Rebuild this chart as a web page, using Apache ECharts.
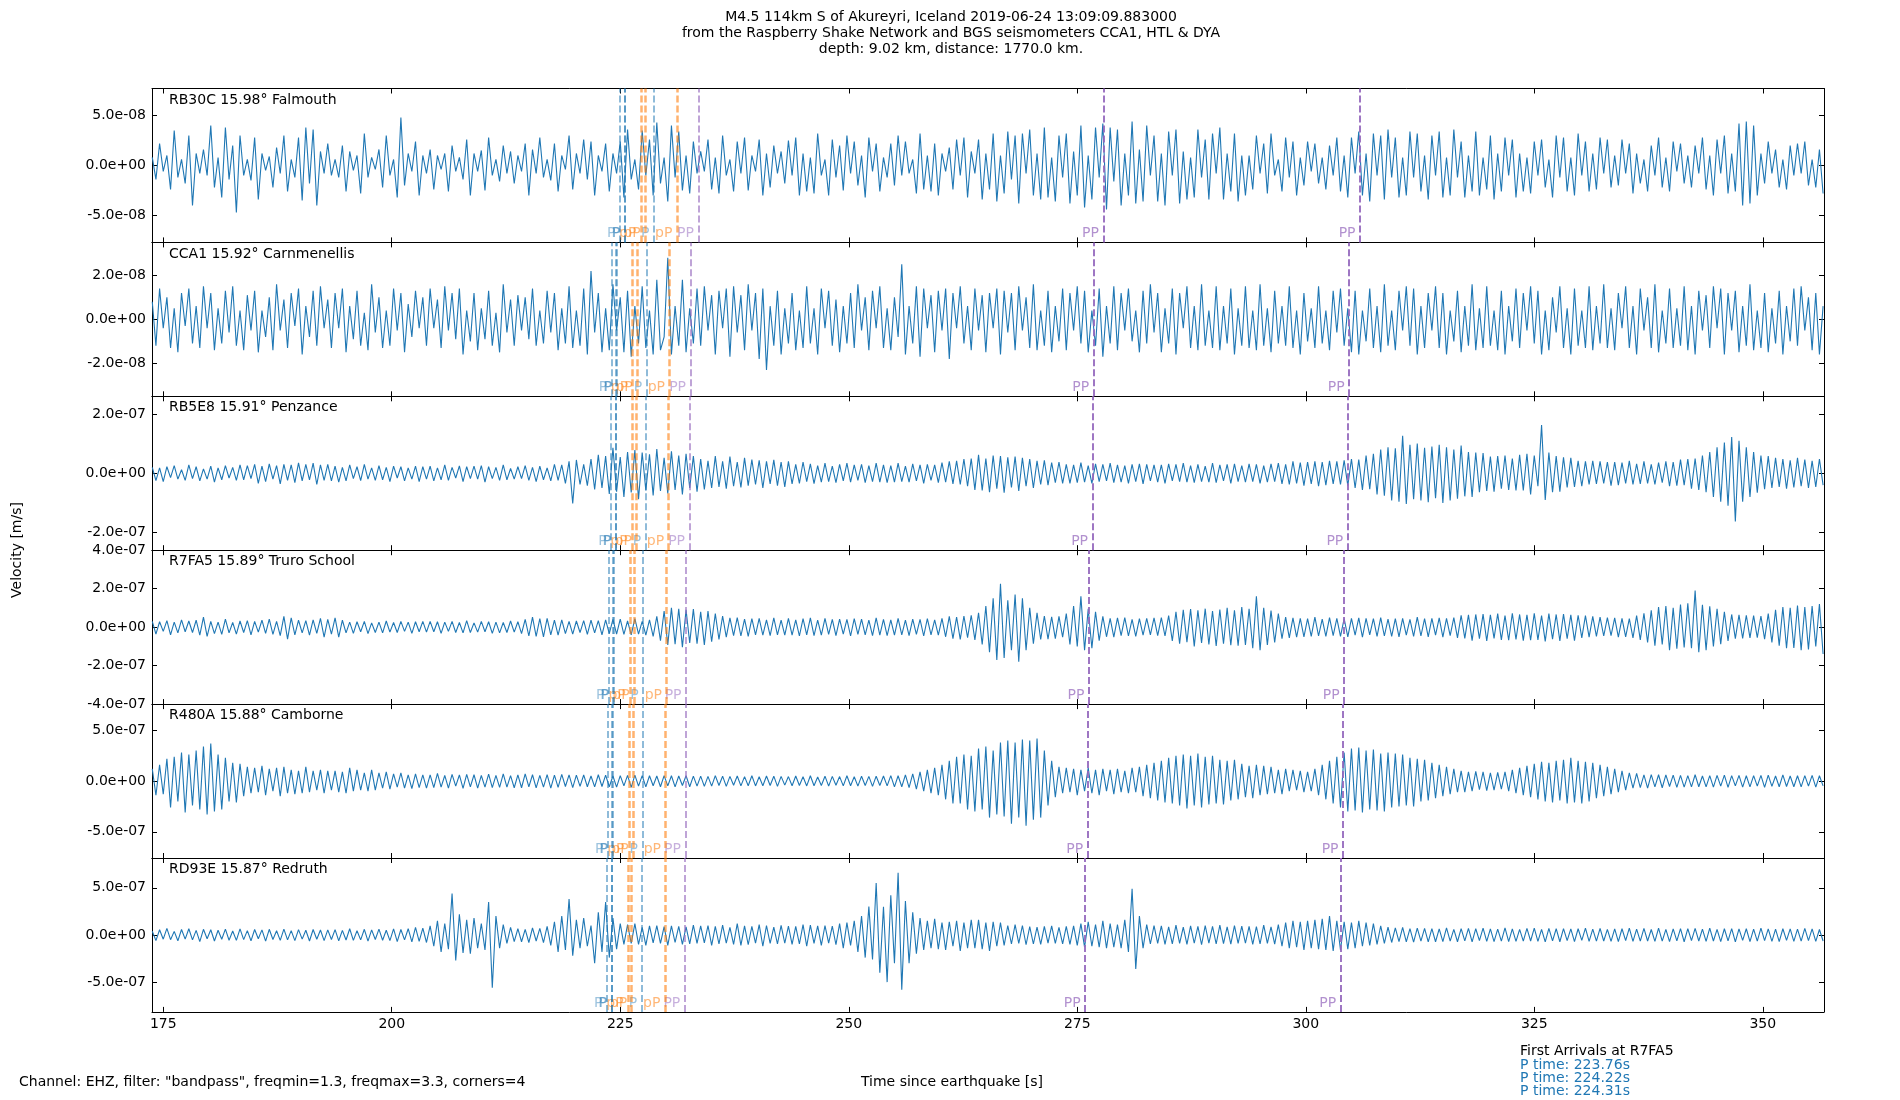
<!DOCTYPE html>
<html>
<head>
<meta charset="utf-8">
<script src="https://cdn.jsdelivr.net/npm/echarts@6/dist/echarts.min.js"></script>
<style>html,body{margin:0;padding:0;background:#fff}#chart{width:1900px;height:1100px}</style>
</head>
<body>
<div id="chart"></div>
<script>
// sample grid of the traces (s since origin) and x range
var t0 = 173.8, dt = 0.4;
var xMin = 173.77, xMax = 356.7;
var xTicks = [175, 200, 225, 250, 275, 300, 325, 350];

var stations = ['RB30C', 'CCA1', 'RB5E8', 'R7FA5', 'R480A', 'RD93E'];
var dists = ['15.98°', '15.92°', '15.91°', '15.89°', '15.88°', '15.87°'];
var places = ['Falmouth', 'Carnmenellis', 'Penzance', 'Truro School', 'Camborne', 'Redruth'];
// y limits and ticks in nm/s
var yLim = [77, 35, 260, 400, 758, 816];
var yTicks = [[-50, 0, 50], [-20, 0, 20], [-200, 0, 200], [-400, -200, 0, 200, 400], [-500, 0, 500], [-500, 0, 500]];

// arrivals (s)
var pTimes = [[224.97, 225.45, 225.53, 228.68], [224.06, 224.55, 224.64, 227.88], [224.0, 224.47, 224.56, 227.78],
  [223.76, 224.22, 224.31, 227.5], [223.65, 224.11, 224.2, 227.43], [223.55, 224.02, 224.1, 227.34]];
var pPTimes = [[227.26, 227.73, 231.2], [226.35, 226.86, 230.39], [226.3, 226.76, 230.3],
  [226.1, 226.52, 230.06], [225.96, 226.41, 229.95], [225.87, 226.24, 229.88]];
var ppNear = [233.56, 232.69, 232.58, 232.2, 232.12, 232.06];
var ppFar = [[277.86, 305.94], [276.8, 304.74], [276.67, 304.6], [276.27, 304.21], [276.14, 304.08], [275.87, 303.81]];

// velocity traces, nm/s, one value every 0.4 s from 173.8 s
var rb30c = [8,-14,22,-6,10,-24,35,-12,6,-18,30,-40,12,-8,16,-10,40,-22,8,-32,38,-14,20,-47,30,
  -10,6,-15,28,-34,12,-5,9,-22,18,-8,30,-26,6,-12,28,-35,38,-18,36,-40,14,-8,22,-10,
  6,-12,20,-26,14,-5,10,-28,32,-12,8,-4,16,-22,30,-10,6,-32,48,-20,12,-6,24,-30,10,
  -8,16,-24,10,-4,12,-26,20,-6,8,-14,26,-30,12,-6,15,-25,28,-10,6,-16,20,-8,14,-18,
  10,-6,22,-30,16,-8,28,-12,6,-15,22,-26,10,-4,30,-24,12,-8,26,-14,24,-30,10,-6,22,
  -26,12,-8,24,-32,36,-14,6,-24,35,-10,26,-30,43,-18,8,-36,40,-12,34,-25,10,-28,24,-8,
  14,-6,26,-24,8,-28,30,-10,6,-26,24,-8,28,-25,10,-6,26,-30,12,-22,20,-8,14,-18,25,
  -10,28,-30,12,-26,8,-28,32,-10,6,-30,26,-12,20,-25,30,-8,24,-20,10,-32,28,-6,22,-26,
  8,-12,22,-20,30,-10,24,-8,6,-28,32,-24,10,-26,22,-30,12,-6,18,-24,26,-10,28,-32,14,
  -8,26,-34,12,-24,32,-36,10,-28,34,-14,30,-38,32,-8,36,-30,12,-34,38,-32,8,-36,30,-12,
  32,-38,14,-30,40,-42,10,-34,38,-12,42,-44,38,-16,36,-40,12,-30,44,-38,16,-36,40,-10,30,
  -36,12,-40,34,-10,36,-38,14,-34,8,-32,36,-12,26,-34,32,-8,38,-34,12,-26,32,-36,10,-30,
  10,-24,30,-8,22,-28,32,-10,6,-26,28,-12,24,-30,8,-20,24,-6,22,-18,8,-24,20,-10,28,
  -26,10,-32,28,-8,34,-30,12,-36,32,-10,30,-34,36,-12,28,-32,8,-30,34,-12,32,-26,10,-34,
  30,-10,34,-32,8,-30,36,-12,24,-32,10,-26,34,-30,8,-24,30,-34,12,-26,28,-10,26,-32,12,
  -26,8,-28,24,-10,26,-22,6,-32,30,-12,28,-26,8,-30,32,-10,24,-26,12,-24,28,-8,26,-22,
  10,-20,26,-8,22,-28,12,-18,6,-26,20,-10,28,-22,8,-26,24,-6,22,-18,10,-22,20,-8,28,
  -24,10,-30,26,-8,30,-28,12,-26,42,-40,44,-38,40,-30,12,-18,24,-8,16,-22,6,-24,20,-10,
  22,-8,24,-20,6,-22,16,-28];
var cca1 = [8,-12,14,-4,10,-13,5,-15,12,-3,14,-11,6,-13,15,-4,12,-14,5,-11,13,-6,15,-12,4,
  -14,11,-5,13,-15,4,-8,10,-14,16,-5,9,-13,12,-3,14,-16,6,-8,13,-12,15,-4,9,-13,
  12,-4,14,-15,6,-9,13,-12,3,-14,16,-6,10,-13,4,-12,14,-5,12,-15,7,-8,13,-4,10,
  -12,14,-4,9,-13,15,-5,12,-9,14,-16,4,-10,12,-14,5,-9,13,-12,3,-15,16,-6,9,-12,
  11,-5,10,-9,14,-12,4,-11,13,-6,12,-14,5,-11,15,-13,4,-12,14,-16,22,-6,12,-15,5,
  -14,16,-5,10,-15,13,-17,6,-11,15,-13,4,-16,18,-14,-8,28,-16,6,-12,18,-15,5,-11,14,
  -12,15,-5,11,-16,13,-4,14,-17,15,-6,11,-14,16,-5,12,-18,14,-23,6,-12,13,-16,5,-11,
  12,-14,4,-13,15,-11,5,-16,14,-4,13,-12,9,-15,6,-11,12,-13,16,-5,10,-14,13,-4,15,
  -13,5,-14,10,-8,25,-16,6,-11,15,-17,14,-4,11,-15,13,-5,14,-18,12,-4,15,-11,6,-14,
  14,-5,11,-15,12,-4,14,-16,13,-6,12,-14,15,-5,10,-13,16,-14,4,-12,13,-15,6,-10,14,
  -14,12,-5,15,-11,13,-15,4,-12,14,-17,6,-11,15,-14,12,-5,14,-10,4,-15,13,-11,16,-6,
  12,-15,5,-11,14,-16,12,-4,15,-13,6,-14,16,-12,4,-13,15,-14,6,-11,14,-16,5,-12,15,
  -13,4,-14,16,-12,5,-15,13,-11,6,-12,15,-13,4,-16,12,-10,5,-13,15,-11,4,-14,13,-6,
  14,-12,5,-15,13,-16,4,-10,14,-13,6,-15,16,-12,4,-14,13,-5,15,-12,14,-16,6,-13,12,
  -5,15,-13,12,-16,4,-10,13,-15,6,-12,16,-14,5,-13,15,-12,4,-14,13,-16,6,-10,14,-13,
  12,-5,15,-11,13,-16,4,-14,10,-6,15,-13,5,-16,14,-12,4,-13,15,-14,6,-11,16,-13,5,
  -14,12,-4,15,-13,6,-16,14,-5,10,-13,16,-15,4,-11,14,-13,5,-12,15,-14,6,-16,13,-5,
  11,-13,15,-4,14,-16,12,-5,13,-15,6,-12,16,-14,4,-13,12,-15,5,-11,13,-16,6,-10,14,
  -12,15,-5,10,-14,12,-16,6];
var rb5e8 = [20,-25,18,-28,22,-15,26,-20,12,-24,28,-18,22,-26,15,-20,24,-30,18,-22,26,-16,20,-24,28,
  -22,26,-18,30,-34,24,-28,32,-20,26,-36,30,-24,28,-32,35,-26,30,-22,34,-38,28,-24,30,-26,
  24,-30,20,-26,28,-18,22,-25,30,-20,18,-24,26,-22,20,-28,24,-16,22,-26,18,-20,24,-28,22,
  -20,24,-26,18,-22,28,-24,20,-16,25,-28,22,-18,24,-20,26,-30,22,-18,20,-24,28,-22,16,-20,
  22,-18,26,-24,20,-28,24,-22,18,-26,30,-24,28,-34,40,-102,45,-38,30,-42,48,-55,62,-50,58,
  -70,86,-62,55,-80,72,-65,78,-88,70,-58,64,-75,82,-60,52,-68,74,-56,60,-72,66,-50,58,-62,
  48,-55,42,-50,58,-46,40,-52,56,-44,38,-48,52,-42,46,-38,44,-50,40,-36,45,-42,38,-46,40,
  -36,30,-34,38,-28,32,-35,26,-30,34,-28,24,-32,30,-26,34,-30,28,-24,30,-32,26,-28,34,-30,
  28,-32,26,-30,34,-28,24,-30,32,-26,28,-34,30,-24,28,-32,36,-30,40,-36,42,-38,48,-44,50,
  -56,62,-58,50,-64,60,-52,58,-66,54,-48,56,-60,52,-44,48,-50,42,-38,44,-40,36,-32,38,-34,
  30,-34,28,-32,36,-30,26,-34,32,-28,30,-26,34,-32,28,-30,26,-34,30,-28,32,-36,30,-26,28,
  -30,28,-34,32,-26,30,-28,34,-30,26,-32,30,-28,24,-30,34,-32,28,-26,30,-34,32,-28,26,-30,
  32,-28,30,-34,26,-30,32,-28,34,-36,30,-38,40,-34,36,-42,38,-36,40,-44,38,-40,42,-36,40,
  -38,44,-42,48,-50,46,-56,60,-54,66,-72,80,-76,88,-92,84,-96,127,-104,96,-88,100,-92,86,-98,
  90,-84,96,-100,88,-92,80,-86,94,-78,72,-80,70,-64,68,-60,56,-62,58,-52,60,-56,50,-58,62,
  -58,66,-72,60,-44,163,-90,70,-64,58,-62,54,-48,52,-46,42,-44,40,-38,42,-36,40,-34,38,-42,
  38,-40,36,-34,42,-38,32,-36,40,-34,30,-38,36,-32,40,-44,38,-42,46,-40,48,-52,50,-56,60,
  -64,72,-80,88,-96,104,-110,122,-163,110,-96,88,-80,72,-66,60,-54,58,-50,52,-46,48,-52,44,-48,
  52,-44,46,-50,42,-46,48,-40];
var r7fa5 = [30,-36,28,-22,34,-40,26,-30,38,-24,32,-28,36,-42,52,-48,30,-34,26,-38,42,-30,24,-36,32,
  -28,34,-40,30,-26,36,-32,42,-38,30,-44,56,-62,48,-40,36,-30,34,-42,38,-32,46,-52,40,-36,
  48,-52,36,-30,26,-32,28,-24,30,-34,22,-28,26,-30,32,-26,24,-28,30,-22,26,-32,28,-24,30,
  -26,30,-24,28,-32,26,-22,30,-28,24,-30,34,-28,22,-26,30,-24,28,-32,26,-30,24,-28,32,-26,
  28,-34,40,-46,52,-48,44,-50,46,-40,36,-42,38,-34,30,-36,32,-28,34,-38,36,-30,34,-40,38,
  -34,40,-36,42,-38,32,-40,44,-36,30,-42,38,-48,56,-70,84,-92,100,-88,96,-104,90,-82,94,-86,
  80,-92,84,-76,70,-64,58,-52,48,-44,50,-46,42,-48,44,-40,46,-42,38,-44,48,-40,36,-42,46,
  -42,38,-46,44,-40,48,-44,36,-42,46,-38,40,-44,42,-36,40,-46,44,-38,42,-40,36,-44,48,-42,
  40,-44,38,-42,46,-40,36,-44,42,-38,40,-46,44,-40,38,-42,46,-50,56,-60,52,-64,58,-54,62,
  -66,74,-90,110,-130,150,-170,225,-160,140,-120,170,-180,150,-120,100,-86,74,-64,58,-62,54,-60,56,-52,
  70,-90,110,-100,160,-120,96,-110,80,-70,56,-50,46,-52,48,-44,50,-46,40,-48,44,-42,46,-40,48,
  -44,50,-46,60,-72,80,-86,90,-78,94,-100,88,-82,96,-90,84,-98,92,-86,100,-94,88,-96,104,-92,
  96,-110,160,-120,100,-92,86,-80,70,-60,52,-56,48,-52,46,-50,44,-48,52,-46,42,-48,50,-44,46,
  -48,44,-50,46,-42,48,-52,46,-40,44,-48,50,-46,42,-48,44,-50,46,-42,40,-48,52,-46,44,-50,
  46,-42,48,-52,46,-44,50,-56,62,-58,64,-70,66,-60,68,-72,64,-58,70,-66,60,-68,72,-64,66,
  -70,64,-68,72,-66,60,-74,70,-62,66,-72,68,-60,64,-70,62,-56,60,-52,56,-48,52,-46,50,-44,
  48,-52,46,-50,44,-56,60,-66,72,-80,88,-96,104,-90,110,-120,100,-112,118,-106,124,-110,190,-130,116,
  -120,108,-100,96,-88,80,-72,66,-60,64,-58,62,-56,60,-54,58,-62,70,-80,90,-96,104,-110,100,-108,
  112,-120,104,-116,110,-100,120,-140];
var r480a = [120,-140,160,-130,220,-260,240,-200,280,-310,260,-240,300,-280,340,-330,370,-300,260,-280,230,-200,180,-210,170,
  -150,140,-120,130,-110,150,-140,120,-100,130,-150,140,-120,110,-130,100,-120,140,-110,100,-90,110,-120,100,-90,
  100,-110,90,-120,130,-100,110,-90,80,-100,110,-90,80,-70,90,-80,70,-60,80,-70,60,-75,70,-65,60,
  -70,60,-65,75,-60,55,-70,65,-50,60,-72,66,-58,62,-70,55,-60,68,-64,56,-62,70,-60,54,-66,
  60,-66,70,-58,62,-68,56,-60,64,-70,58,-62,66,-54,60,-64,58,-52,60,-56,50,-58,62,-54,58,
  -56,50,-60,54,-48,56,-62,58,-50,54,-58,52,-46,50,-56,54,-48,52,-58,50,-44,52,-56,48,-50,
  48,-52,46,-50,54,-44,48,-52,46,-42,50,-48,44,-46,52,-48,42,-46,50,-44,48,-52,46,-40,44,
  -46,50,-44,42,-48,52,-46,40,-44,48,-50,46,-42,44,-48,52,-46,42,-50,48,-44,46,-52,48,-44,
  50,-48,54,-58,52,-56,60,-64,70,-80,90,-100,110,-120,130,-140,160,-180,200,-220,240,-220,260,-280,250,
  -300,320,-280,340,-360,300,-330,380,-350,400,-420,380,-360,410,-440,400,-380,420,-360,300,-240,200,-160,140,-120,
  130,-110,120,-140,110,-100,130,-120,110,-140,120,-100,110,-130,120,-110,100,-120,130,-110,140,-150,160,-170,180,
  -190,200,-210,230,-220,250,-240,260,-270,250,-240,270,-260,240,-230,250,-220,210,-230,200,-190,210,-180,170,-160,
  150,-170,160,-140,150,-130,140,-120,110,-130,120,-100,110,-90,100,-110,90,-100,120,-140,160,-180,200,-220,240,
  -260,280,-300,320,-290,330,-310,300,-280,310,-290,270,-300,280,-260,270,-250,260,-240,230,-250,220,-200,210,-190,
  180,-170,160,-150,140,-130,120,-110,100,-110,90,-100,95,-85,90,-95,80,-90,85,-80,90,-100,110,-120,130,
  -140,150,-160,170,-180,190,-200,180,-210,200,-190,210,-220,230,-210,200,-220,190,-200,180,-170,160,-150,140,-130,
  120,-110,100,-90,80,-70,75,-65,60,-70,64,-58,62,-66,60,-54,58,-62,56,-60,54,-58,62,-56,50,
  -58,54,-60,56,-50,58,-62,54,-48,56,-60,52,-58,54,-50,56,-62,58,-52,50,-56,60,-54,50,-56,
  52,-58,54,-50,56,-60,52,-48];
var rd93e = [40,-60,55,-45,70,-50,38,-62,58,-44,66,-52,48,-70,60,-40,55,-64,50,-46,62,-56,42,-58,64,
  -50,46,-62,58,-40,54,-66,60,-48,44,-58,62,-52,46,-60,56,-44,50,-64,58,-46,52,-60,54,-48,
  56,-62,48,-54,66,-58,44,-52,60,-66,54,-48,62,-56,50,-60,64,-70,58,-52,66,-74,80,-68,72,
  -80,96,-120,150,-180,120,-150,440,-270,220,-190,160,-200,180,-140,120,-160,350,-560,200,-140,110,-90,80,-70,
  66,-72,60,-80,74,-64,70,-82,90,-110,140,-180,200,-160,380,-220,160,-140,180,-120,100,-300,240,-180,350,
  -240,180,-150,120,-100,110,-90,120,-100,80,-110,96,-84,100,-90,88,-110,96,-80,90,-100,86,-94,104,-90,
  96,-84,100,-110,90,-96,104,-88,80,-100,120,-110,96,-104,90,-86,110,-120,100,-90,84,-96,102,-88,94,
  -100,90,-96,110,-120,104,-90,96,-110,100,-86,94,-104,120,-140,130,-110,150,-180,200,-240,300,-260,550,-400,
  300,-500,420,-300,660,-580,360,-300,240,-200,180,-160,150,-140,170,-150,130,-160,140,-120,150,-170,130,-140,160,
  -140,160,-150,130,-170,140,-120,130,-110,100,-96,110,-90,100,-104,88,-96,84,-100,92,-86,96,-90,80,-94,
  90,-100,96,-110,120,-130,140,-120,110,-130,150,-140,120,-130,110,-140,160,-180,490,-360,200,-140,110,-96,100,
  -90,96,-100,86,-94,104,-90,84,-100,96,-88,92,-104,98,-86,90,-96,104,-92,86,-98,100,-90,94,-88,
  92,-100,88,-96,104,-90,86,-98,110,-120,130,-140,150,-130,140,-160,150,-140,160,-150,170,-160,200,-170,150,
  -160,140,-150,130,-140,150,-120,130,-110,120,-100,96,-90,84,-80,76,-70,80,-74,68,-76,72,-66,70,-74,
  68,-72,64,-70,76,-66,60,-72,68,-62,70,-74,66,-60,72,-68,64,-70,62,-66,74,-70,64,-68,60,
  -66,70,-64,72,-68,60,-74,70,-62,66,-72,68,-60,64,-70,66,-58,72,-68,62,-66,70,-64,60,-68,
  64,-70,66,-60,72,-68,62,-66,70,-64,58,-68,72,-66,60,-70,64,-62,68,-72,66,-60,70,-64,62,
  -68,72,-64,60,-70,66,-62,68,-74,64,-58,66,-70,62,-66,72,-60,64,-68,62,-70,66,-58,64,-68,
  62,-66,70,-60,64,-68,58,-64];
var traces = [rb30c, cca1, rb5e8, r7fa5, r480a, rd93e];

var FONT = 'DejaVu Sans';
var gridLeft = 152, gridRight = 1824, gridTop = 88.5, panelH = 153.9;

// nm/s value -> label in m/s like 5.0e-08
function sci(v) {
    if (v === 0) return '0.0e+00';
    var s = (v * 1e-9).toExponential(1).split('e');
    var e = parseInt(s[1], 10);
    var a = Math.abs(e);
    return s[0] + 'e' + (e < 0 ? '-' : '+') + (a < 10 ? '0' : '') + a;
}

var grids = [], xAxes = [], yAxes = [], series = [], graphics = [];
for (var i = 0; i < 6; i++) {
    var panelTop = gridTop + i * panelH;
    grids.push({left: gridLeft, width: gridRight - gridLeft, top: panelTop, height: panelH});
    ['bottom', 'top'].forEach(function (pos) {
        xAxes.push({
            gridIndex: i, type: 'value', min: xMin, max: xMax, position: pos,
            axisLine: {show: true, onZero: false, lineStyle: {color: '#000', width: 1}},
            axisTick: {show: true, inside: true, length: 5, customValues: xTicks, lineStyle: {color: '#000', width: 1}},
            axisLabel: {show: pos === 'bottom' && i === 5, customValues: xTicks, margin: 5,
                fontSize: 14, color: '#000', fontFamily: FONT},
            splitLine: {show: false}
        });
    });
    ['left', 'right'].forEach(function (pos) {
        yAxes.push({
            gridIndex: i, type: 'value', min: -yLim[i], max: yLim[i], position: pos,
            axisLine: {show: true, onZero: false, lineStyle: {color: '#000', width: 1}},
            axisTick: {show: true, inside: true, length: 5, customValues: yTicks[i], lineStyle: {color: '#000', width: 1}},
            axisLabel: {show: pos === 'left', customValues: yTicks[i], margin: 6, fontSize: 14,
                color: '#000', fontFamily: FONT, formatter: sci},
            splitLine: {show: false}
        });
    });

    var data = traces[i].map(function (v, k) { return [t0 + k * dt, v]; });

    // phase lines and their labels
    var lines = [], labels = [];
    var yBot = -yLim[i];
    var addPhase = function (t, name, color, width, lineOp, textColor) {
        lines.push({xAxis: t, lineStyle: {color: color, width: width, type: [7, 3], opacity: lineOp}});
        labels.push({value: [t, yBot], label: {formatter: name, color: textColor}});
    };
    pTimes[i].forEach(function (t) { addPhase(t, 'P', '#1f77b4', 2, 0.5, 'rgba(31,119,180,0.55)'); });
    pPTimes[i].forEach(function (t) { addPhase(t, 'pP', '#ff7f0e', 2.5, 0.6, 'rgba(255,127,14,0.7)'); });
    addPhase(ppNear[i], 'PP', '#9467bd', 2, 0.6, 'rgba(148,103,189,0.65)');
    ppFar[i].forEach(function (t) { addPhase(t, 'PP', '#9467bd', 2, 0.9, 'rgba(148,103,189,0.9)'); });

    series.push({
        type: 'line', xAxisIndex: 2 * i, yAxisIndex: 2 * i, data: data,
        showSymbol: false, symbol: 'none',
        lineStyle: {color: '#1f77b4', width: 1.1}, itemStyle: {color: '#1f77b4'},
        markLine: {symbol: ['none', 'none'], silent: true, animation: false, label: {show: false}, data: lines}
    });
    series.push({
        type: 'scatter', xAxisIndex: 2 * i, yAxisIndex: 2 * i, data: labels,
        symbolSize: 1, silent: true, itemStyle: {color: 'rgba(0,0,0,0)'},
        label: {show: true, position: 'left', distance: 4, offset: [0, -9], fontSize: 14, fontFamily: FONT}
    });

    graphics.push({type: 'text', x: 169, y: panelTop + 11.5,
        style: {text: stations[i] + ' ' + dists[i] + ' ' + places[i], fontSize: 14, fontFamily: FONT,
            fill: '#000', align: 'left', verticalAlign: 'middle'}});
}

var titleLines = ['M4.5 114km S of Akureyri, Iceland 2019-06-24 13:09:09.883000',
    'from the Raspberry Shake Network and BGS seismometers CCA1, HTL & DYA',
    'depth: 9.02 km, distance: 1770.0 km.'];
titleLines.forEach(function (s, k) {
    graphics.push({type: 'text', x: 951, y: 17 + k * 16,
        style: {text: s, fontSize: 14, fontFamily: FONT, fill: '#000', align: 'center', verticalAlign: 'middle'}});
});
graphics.push({type: 'text', x: 17, y: 550, rotation: Math.PI / 2,
    style: {text: 'Velocity [m/s]', fontSize: 14, fontFamily: FONT, fill: '#000', align: 'center', verticalAlign: 'middle'}});
graphics.push({type: 'text', x: 19, y: 1082.5,
    style: {text: 'Channel: EHZ, filter: "bandpass", freqmin=1.3, freqmax=3.3, corners=4', fontSize: 14,
        fontFamily: FONT, fill: '#000', align: 'left', verticalAlign: 'middle'}});
graphics.push({type: 'text', x: 952, y: 1082.5,
    style: {text: 'Time since earthquake [s]', fontSize: 14, fontFamily: FONT, fill: '#000', align: 'center', verticalAlign: 'middle'}});

var arrivalNote = ['First Arrivals at R7FA5', 'P time: 223.76s', 'P time: 224.22s', 'P time: 224.31s'];
arrivalNote.forEach(function (s, k) {
    graphics.push({type: 'text', x: 1520, y: 1051.7 + k * 13.3,
        style: {text: s, fontSize: 14, fontFamily: FONT, fill: k === 0 ? '#000' : '#1f77b4', align: 'left', verticalAlign: 'middle'}});
});

var chart = echarts.init(document.getElementById('chart'));
chart.setOption({
    animation: false,
    backgroundColor: '#fff',
    textStyle: {fontFamily: FONT},
    grid: grids,
    xAxis: xAxes,
    yAxis: yAxes,
    series: series,
    graphic: graphics
});
</script>
</body>
</html>
